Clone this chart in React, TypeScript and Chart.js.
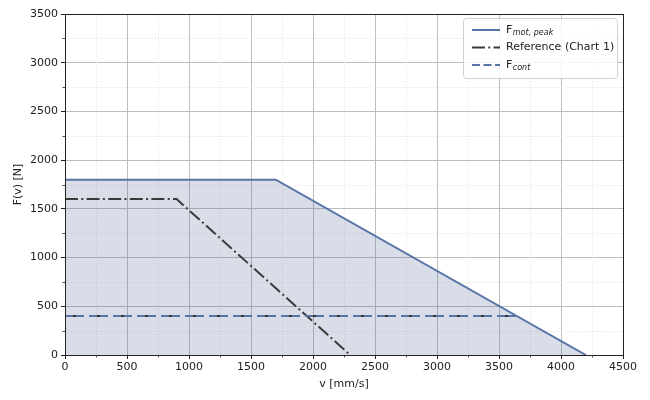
import React, { useEffect, useRef } from "react";
import { Chart, registerables } from "chart.js";

Chart.register(...registerables);

// ---- data ----
const peakV = [0, 1700, 4200];
const peakF = [1800, 1800, 0];
const refV = [0, 900, 2300];
const refF = [1600, 1600, 0];
const contV = [0, 3644];
const contF = [400, 400];

const xMinorTicks = [250, 750, 1250, 1750, 2250, 2750, 3250, 3750, 4250];
const yMinorTicks = [250, 750, 1250, 1750, 2250, 2750, 3250];

const legendItems = [
  { main: "F", sub: "mot, peak", color: "#5874a6", dash: [] as number[] },
  { main: "Reference (Chart 1)", sub: "", color: "#3a3a3a", dash: [13, 3.3, 2, 3.3] },
  { main: "F", sub: "cont", color: "#5874a6", dash: [8, 3.5] },
];

const pts = (xs: number[], ys: number[]) => xs.map((x, i) => ({ x, y: ys[i] }));

const FONT = "'DejaVu Sans', sans-serif";

const decor = {
  id: "decor",
  beforeDatasetsDraw(chart: any) {
    const { ctx, chartArea: a, scales } = chart;
    const x = scales.x, y = scales.y;
    ctx.save();
    ctx.strokeStyle = "#dddddd";
    ctx.lineWidth = 0.8;
    ctx.setLineDash([1.2, 2]);
    for (const v of xMinorTicks) {
      const px = Math.round(x.getPixelForValue(v)) + 0.5;
      ctx.beginPath();
      ctx.moveTo(px, a.top);
      ctx.lineTo(px, a.bottom);
      ctx.stroke();
    }
    for (const v of yMinorTicks) {
      const py = Math.round(y.getPixelForValue(v)) + 0.5;
      ctx.beginPath();
      ctx.moveTo(a.left, py);
      ctx.lineTo(a.right, py);
      ctx.stroke();
    }
    ctx.restore();
  },
  afterDraw(chart: any) {
    const { ctx, chartArea: a, scales } = chart;
    const x = scales.x, y = scales.y;
    ctx.save();
    // minor ticks
    ctx.strokeStyle = "#222";
    ctx.lineWidth = 0.8;
    ctx.setLineDash([]);
    for (const v of xMinorTicks) {
      const px = Math.round(x.getPixelForValue(v)) + 0.5;
      ctx.beginPath();
      ctx.moveTo(px, a.bottom);
      ctx.lineTo(px, a.bottom + 2.5);
      ctx.stroke();
    }
    for (const v of yMinorTicks) {
      const py = Math.round(y.getPixelForValue(v)) + 0.5;
      ctx.beginPath();
      ctx.moveTo(a.left, py);
      ctx.lineTo(a.left - 2.5, py);
      ctx.stroke();
    }
    // frame
    ctx.strokeStyle = "#222";
    ctx.lineWidth = 1;
    ctx.strokeRect(Math.round(a.left) + 0.5, Math.round(a.top) + 0.5, Math.round(a.right - a.left), Math.round(a.bottom - a.top));

    // legend
    const w = 154, h = 60;
    const bx = a.right - 6 - w, by = a.top + 4;
    ctx.beginPath();
    (ctx as any).roundRect(bx + 0.5, by + 0.5, w, h, 3);
    ctx.fillStyle = "rgba(255,255,255,0.85)";
    ctx.fill();
    ctx.strokeStyle = "#d0d0d0";
    ctx.lineWidth = 1;
    ctx.stroke();
    legendItems.forEach((it, i) => {
      const cy = by + 12 + i * 17.5;
      ctx.beginPath();
      ctx.setLineDash(it.dash);
      ctx.strokeStyle = it.color;
      ctx.lineWidth = 2;
      ctx.moveTo(bx + 9, cy);
      ctx.lineTo(bx + 37, cy);
      ctx.stroke();
      ctx.setLineDash([]);
      ctx.fillStyle = "#222";
      ctx.textBaseline = "middle";
      ctx.textAlign = "left";
      ctx.font = `11px ${FONT}`;
      const tx = bx + 43;
      ctx.fillText(it.main, tx, cy);
      if (it.sub) {
        const mw = ctx.measureText(it.main).width;
        ctx.font = `italic 8px ${FONT}`;
        ctx.fillText(it.sub, tx + mw + 0.5, cy + 3);
      }
    });
    ctx.restore();
  },
};

const plain = (v: any) => String(v);

export default function App() {
  const ref = useRef<HTMLCanvasElement | null>(null);
  useEffect(() => {
    document.body.style.margin = "0";
    if (!ref.current) return;
    const chart = new Chart(ref.current, {
      type: "line",
      data: {
        datasets: [
          {
            label: "F_mot,peak",
            data: pts(peakV, peakF),
            borderColor: "#5874a6",
            backgroundColor: "rgba(76,100,150,0.22)",
            borderWidth: 2,
            fill: "origin",
            pointRadius: 0,
            tension: 0,
            order: 3,
          },
          {
            label: "Reference (Chart 1)",
            data: pts(refV, refF),
            borderColor: "#3a3a3a",
            borderWidth: 2,
            borderDash: [13, 3.3, 2, 3.3],
            fill: false,
            pointRadius: 0,
            tension: 0,
            order: 2,
          },
          {
            label: "F_cont",
            data: pts(contV, contF),
            borderColor: "#5874a6",
            borderWidth: 2,
            borderDash: [19, 5],
            fill: false,
            pointRadius: 0,
            tension: 0,
            order: 1,
          },
          {
            label: "cont-ref",
            data: pts(contV, contF),
            borderColor: "#333",
            borderWidth: 2,
            borderDash: [3, 21],
            borderDashOffset: 16,
            fill: false,
            pointRadius: 0,
            tension: 0,
            order: 0,
          },
        ],
      },
      options: {
        animation: false,
        responsive: false,
        maintainAspectRatio: false,
        layout: { padding: { left: 0, right: 27, top: 14, bottom: 0 } },
        plugins: { legend: { display: false }, tooltip: { enabled: false } },
        scales: {
          x: {
            type: "linear",
            min: 0,
            max: 4500,
            ticks: { stepSize: 500, callback: plain, color: "#222", font: { family: FONT, size: 11 }, padding: 2, maxRotation: 0 },
            grid: { color: "#bdbdbd", lineWidth: 1, tickLength: 4, tickColor: "#222", drawTicks: true },
            border: { display: false },
            title: { display: true, text: "v [mm/s]", color: "#222", font: { family: FONT, size: 11 }, padding: { top: 0, bottom: 9 } },
            afterFit(scale: any) { scale.height = 45; },
          },
          y: {
            type: "linear",
            min: 0,
            max: 3500,
            ticks: { stepSize: 500, callback: plain, color: "#222", font: { family: FONT, size: 11 }, padding: 3 },
            grid: { color: "#bdbdbd", lineWidth: 1, tickLength: 4, tickColor: "#222", drawTicks: true },
            border: { display: false },
            title: { display: true, text: "F(v) [N]", color: "#222", font: { family: FONT, size: 11 }, padding: { top: 12, bottom: 4 } },
            afterFit(scale: any) { scale.width = 65; },
          },
        },
      },
      plugins: [decor],
    } as any);
    return () => chart.destroy();
  }, []);
  return (
    <div style={{ width: 650, height: 400 }}>
      <canvas ref={ref} width={650} height={400} style={{ width: 650, height: 400 }} />
    </div>
  );
}
